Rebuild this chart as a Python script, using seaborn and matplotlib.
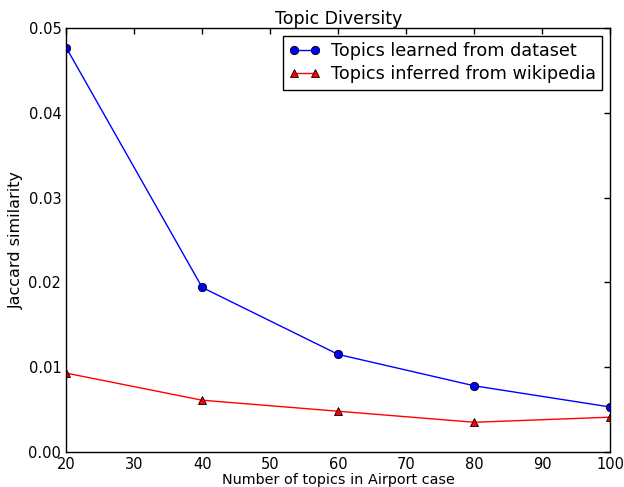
import pandas as pd
import seaborn as sns
import matplotlib.pyplot as plt

topics = [20, 40, 60, 80, 100]
learned = [0.0477, 0.0194, 0.0115, 0.0078, 0.0053]
inferred = [0.0093, 0.0061, 0.0048, 0.0035, 0.0041]

sns.set_style("white")
plt.rcParams['xtick.direction'] = 'in'
plt.rcParams['ytick.direction'] = 'in'
plt.rcParams['xtick.top'] = True
plt.rcParams['ytick.right'] = True
plt.rcParams['axes.edgecolor'] = 'black'
plt.rcParams['text.color'] = 'black'
plt.rcParams['axes.labelcolor'] = 'black'
plt.rcParams['xtick.color'] = 'black'
plt.rcParams['ytick.color'] = 'black'
plt.rcParams['font.family'] = ['DejaVu Sans']

df = pd.DataFrame({'topics': topics, 'learned': learned, 'inferred': inferred})

fig = plt.figure(figsize=(6.24, 4.87), dpi=100)
ax = fig.add_axes([0.106, 0.072, 0.872, 0.8705])

sns.lineplot(data=df, x='topics', y='learned', ax=ax, color='blue', marker='o',
             markersize=6, markeredgecolor='black', markeredgewidth=0.6,
             linewidth=1, label='Topics learned from dataset')
sns.lineplot(data=df, x='topics', y='inferred', ax=ax, color='red', marker='^',
             markersize=6, markeredgecolor='black', markeredgewidth=0.6,
             linewidth=1, label='Topics inferred from wikipedia')

ax.set_xlim(20, 100)
ax.set_ylim(0, 0.05)
ax.set_yticks([0.0, 0.01, 0.02, 0.03, 0.04, 0.05])
ax.set_yticklabels(['0.00', '0.01', '0.02', '0.03', '0.04', '0.05'])
ax.tick_params(labelsize=10.5, width=1, length=4, colors='black')
for s in ax.spines.values():
    s.set_linewidth(1)
    s.set_color('black')

ax.set_title('Topic Diversity', fontsize=12.5, pad=3)
ax.set_xlabel('Number of topics in Airport case', fontsize=10.4, labelpad=1)
ax.set_ylabel('Jaccard similarity', fontsize=11.5, labelpad=3)

leg = ax.legend(loc='upper right', fontsize=12.7, fancybox=False, frameon=True,
                numpoints=2, handlelength=1.8, handletextpad=0.6,
                borderpad=0.35, labelspacing=0.3, borderaxespad=0.45)
leg.get_frame().set_edgecolor('black')
leg.get_frame().set_linewidth(1)
leg.get_frame().set_alpha(1)
for t in leg.get_texts():
    t.set_color('black')

fig.savefig('out.png', dpi=100)
